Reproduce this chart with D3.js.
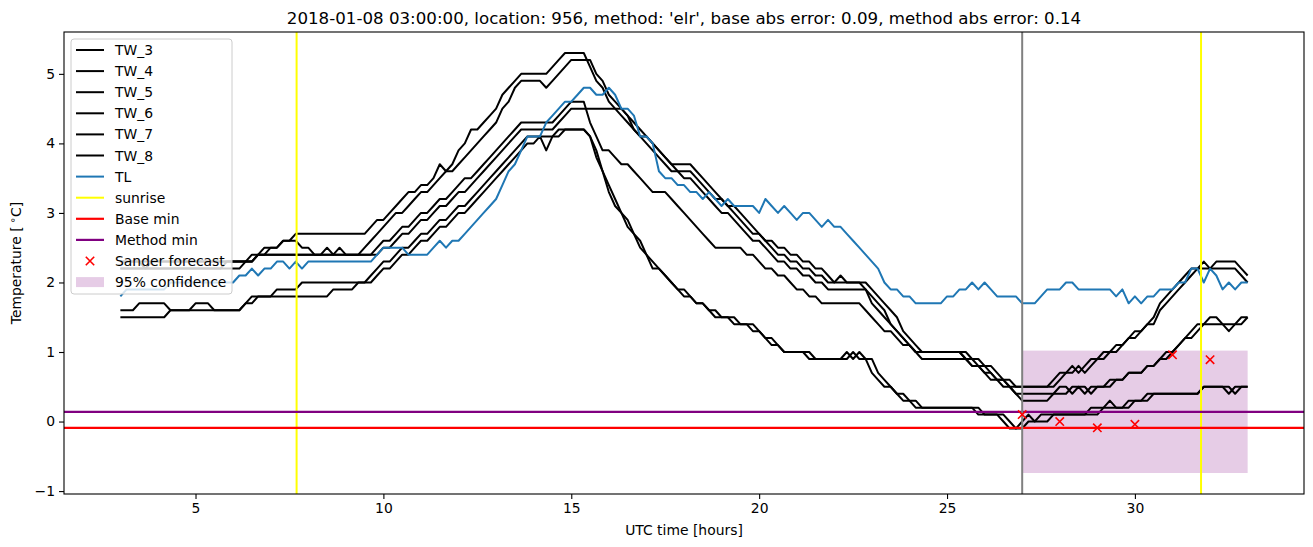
<!DOCTYPE html>
<html><head><meta charset="utf-8">
<script src="https://cdn.jsdelivr.net/npm/d3@7"></script>
<style>body{margin:0;background:#fff;} text{font-family:"DejaVu Sans",sans-serif;fill:#000;}</style>
</head><body><svg id="chart" width="1313" height="547"></svg>
<script>
// ---- data (10-minute samples starting at 03:00 UTC, hours 3..33) ----
const startHour = 3;
const samplesPerHour = 6;
const tw3 = [
2.3,2.3,2.3,2.3,2.2,2.3, 2.3,2.3,2.3,2.3,2.3,2.3, 2.3,2.3,2.3,2.3,2.3,2.3, 2.3,2.3,2.3,2.3,2.4,2.4,
2.5,2.5,2.6,2.6,2.7,2.7, 2.7,2.7,2.7,2.7,2.7,2.7, 2.7,2.7,2.7,2.7,2.8,2.9, 2.9,3.0,3.1,3.2,3.3,3.3,
3.4,3.4,3.5,3.7,3.6,3.7, 3.9,4.0,4.2,4.2,4.3,4.4, 4.5,4.7,4.8,4.9,5.0,5.0, 5.0,5.0,5.0,5.1,5.2,5.3,
5.3,5.3,5.3,5.1,4.9,4.8, 4.6,4.5,4.5,4.4,4.2,4.1, 4.1,4.0,3.9,3.8,3.7,3.7, 3.7,3.7,3.6,3.5,3.4,3.3,
3.2,3.1,3.1,3.0,2.9,2.8, 2.7,2.6,2.6,2.5,2.5,2.4, 2.4,2.3,2.3,2.2,2.2,2.1, 2.0,2.1,2.0,2.0,2.0,1.9,
1.7,1.6,1.5,1.4,1.3,1.2, 1.1,1.0,1.0,1.0,1.0,1.0, 1.0,1.0,1.0,0.9,0.9,0.8, 0.8,0.7,0.6,0.6,0.5,0.5,
0.5,0.5,0.5,0.5,0.5,0.6, 0.7,0.7,0.8,0.7,0.8,0.9, 0.9,1.0,1.0,1.1,1.1,1.2, 1.3,1.3,1.4,1.5,1.7,1.8,
1.9,2.0,2.1,2.2,2.2,2.3, 2.2,2.3,2.3,2.3,2.3,2.2, 2.1];
const tw4 = [
2.2,2.2,2.2,2.2,2.2,2.2, 2.2,2.2,2.2,2.2,2.2,2.2, 2.2,2.2,2.2,2.2,2.2,2.3, 2.3,2.3,2.3,2.3,2.4,2.5,
2.5,2.5,2.6,2.6,2.6,2.5, 2.5,2.4,2.4,2.5,2.4,2.5, 2.4,2.4,2.4,2.5,2.6,2.7, 2.8,2.9,3.0,3.0,3.1,3.2,
3.3,3.3,3.4,3.5,3.6,3.6, 3.7,3.8,3.9,4.0,4.1,4.2, 4.3,4.5,4.6,4.8,4.9,4.9, 4.9,4.9,4.8,4.9,5.0,5.1,
5.2,5.2,5.2,5.2,5.0,4.9, 4.7,4.6,4.5,4.4,4.3,4.2, 4.1,4.0,3.9,3.8,3.7,3.6, 3.6,3.6,3.5,3.4,3.3,3.2,
3.2,3.1,3.0,2.9,2.8,2.7, 2.7,2.6,2.5,2.4,2.4,2.3, 2.3,2.2,2.2,2.1,2.1,2.0, 2.0,2.0,2.0,2.0,2.0,2.0,
1.9,1.8,1.7,1.6,1.5,1.3, 1.2,1.1,1.0,1.0,1.0,1.0, 1.0,1.0,1.0,1.0,0.9,0.9, 0.8,0.8,0.7,0.6,0.6,0.5,
0.5,0.5,0.5,0.5,0.5,0.5, 0.6,0.7,0.7,0.8,0.7,0.8, 0.9,0.9,1.0,1.0,1.1,1.2, 1.2,1.3,1.4,1.4,1.6,1.7,
1.8,1.9,2.0,2.1,2.2,2.2, 2.2,2.2,2.2,2.2,2.2,2.1, 2.0];
const tw5 = [
2.2,2.2,2.2,2.2,2.2,2.2, 2.2,2.2,2.2,2.2,2.2,2.2, 2.2,2.2,2.2,2.2,2.2,2.2, 2.2,2.2,2.3,2.4,2.4,2.4,
2.4,2.4,2.4,2.4,2.4,2.4, 2.4,2.4,2.4,2.4,2.4,2.4, 2.4,2.4,2.4,2.4,2.4,2.5, 2.6,2.6,2.7,2.8,2.8,2.9,
3.0,3.0,3.1,3.2,3.2,3.3, 3.4,3.5,3.5,3.6,3.7,3.8, 3.9,4.0,4.1,4.2,4.3,4.3, 4.3,4.3,4.3,4.3,4.4,4.5,
4.6,4.6,4.6,4.3,4.1,3.9, 3.9,3.8,3.7,3.7,3.6,3.5, 3.4,3.3,3.3,3.3,3.2,3.1, 3.0,2.9,2.8,2.7,2.6,2.5,
2.5,2.5,2.5,2.5,2.4,2.4, 2.3,2.2,2.2,2.1,2.1,2.0, 1.9,1.9,1.8,1.8,1.7,1.7, 1.7,1.7,1.7,1.7,1.7,1.6,
1.5,1.4,1.3,1.3,1.2,1.1, 1.1,1.0,1.0,1.0,1.0,1.0, 1.0,1.0,1.0,0.9,0.8,0.8, 0.7,0.7,0.6,0.6,0.5,0.4,
0.3,0.3,0.3,0.3,0.3,0.4, 0.4,0.4,0.5,0.5,0.5,0.4, 0.5,0.5,0.5,0.6,0.6,0.7, 0.7,0.7,0.8,0.8,0.9,1.0,
1.0,1.1,1.2,1.3,1.4,1.4, 1.4,1.4,1.4,1.3,1.4,1.4, 1.5];
const tw6 = [
2.3,2.3,2.3,2.3,2.3,2.3, 2.3,2.3,2.3,2.3,2.3,2.3, 2.3,2.3,2.3,2.3,2.3,2.3, 2.3,2.3,2.3,2.3,2.4,2.4,
2.4,2.4,2.4,2.4,2.4,2.4, 2.4,2.4,2.4,2.4,2.4,2.4, 2.4,2.4,2.4,2.4,2.4,2.4, 2.5,2.5,2.6,2.7,2.7,2.8,
2.9,2.9,3.0,3.1,3.1,3.2, 3.3,3.3,3.4,3.5,3.6,3.7, 3.8,3.9,4.0,4.1,4.2,4.2, 4.2,4.2,4.2,4.2,4.3,4.4,
4.5,4.5,4.5,4.5,4.5,4.5, 4.5,4.5,4.4,4.3,4.2,4.1, 4.0,3.9,3.8,3.7,3.6,3.6, 3.5,3.5,3.4,3.3,3.2,3.1,
3.0,3.0,2.9,2.8,2.7,2.6, 2.6,2.5,2.4,2.3,2.3,2.2, 2.2,2.1,2.1,2.0,2.0,1.9, 1.9,1.9,1.9,1.9,1.9,1.9,
1.8,1.7,1.6,1.4,1.3,1.2, 1.1,1.0,0.9,0.9,0.9,0.9, 0.9,0.9,0.9,0.9,0.8,0.8, 0.7,0.6,0.6,0.5,0.5,0.4,
0.4,0.4,0.4,0.4,0.4,0.4, 0.5,0.5,0.4,0.5,0.4,0.5, 0.5,0.5,0.6,0.6,0.6,0.7, 0.7,0.7,0.8,0.8,0.9,0.9,
1.0,1.1,1.2,1.2,1.3,1.4, 1.5,1.5,1.4,1.4,1.4,1.5, 1.5];
const tw7 = [
1.6,1.6,1.6,1.7,1.7,1.7, 1.7,1.7,1.6,1.6,1.6,1.6, 1.7,1.7,1.7,1.6,1.6,1.6, 1.6,1.6,1.7,1.8,1.8,1.8,
1.8,1.9,1.9,1.9,1.9,2.0, 2.0,2.0,2.0,2.0,2.0,2.0, 2.0,2.0,2.0,2.0,2.1,2.2, 2.3,2.3,2.4,2.5,2.5,2.6,
2.7,2.7,2.8,2.9,2.9,3.0, 3.1,3.1,3.2,3.3,3.4,3.5, 3.6,3.7,3.8,3.9,4.0,4.1, 4.1,4.1,4.1,4.1,4.2,4.2,
4.2,4.2,4.2,4.1,3.9,3.6, 3.4,3.2,3.0,2.9,2.7,2.6, 2.4,2.2,2.2,2.1,2.0,1.9, 1.8,1.8,1.7,1.7,1.6,1.5,
1.5,1.5,1.4,1.4,1.4,1.3, 1.3,1.2,1.1,1.1,1.0,1.0, 1.0,1.0,0.9,0.9,0.9,0.9, 0.9,0.9,1.0,0.9,1.0,0.9,
0.7,0.6,0.5,0.5,0.4,0.3, 0.3,0.2,0.2,0.2,0.2,0.2, 0.2,0.2,0.2,0.2,0.2,0.2, 0.1,0.1,0.1,0.0,-0.1,-0.1,
0.0,0.1,0.0,0.1,0.1,0.1, 0.1,0.1,0.1,0.1,0.1,0.2, 0.2,0.2,0.3,0.2,0.2,0.3, 0.3,0.3,0.4,0.4,0.4,0.4,
0.4,0.4,0.4,0.4,0.4,0.5, 0.5,0.5,0.5,0.4,0.5,0.5, 0.5];
const tw8 = [
1.5,1.5,1.5,1.5,1.5,1.5, 1.5,1.5,1.6,1.6,1.6,1.6, 1.6,1.6,1.6,1.6,1.6,1.6, 1.6,1.6,1.7,1.7,1.8,1.8,
1.8,1.8,1.8,1.8,1.8,1.8, 1.8,1.8,1.8,1.8,1.9,1.9, 1.9,1.9,2.0,2.0,2.0,2.1, 2.2,2.2,2.3,2.4,2.4,2.5,
2.6,2.6,2.7,2.8,2.8,2.9, 3.0,3.0,3.1,3.2,3.3,3.4, 3.5,3.6,3.7,3.8,3.9,4.0, 4.0,4.1,3.9,4.1,4.1,4.2,
4.2,4.2,4.2,4.1,3.8,3.6, 3.3,3.1,3.0,2.8,2.7,2.5, 2.4,2.3,2.2,2.1,2.0,1.9, 1.9,1.8,1.7,1.7,1.6,1.6,
1.5,1.5,1.5,1.4,1.4,1.4, 1.3,1.2,1.2,1.1,1.0,1.0, 1.0,1.0,1.0,0.9,0.9,0.9, 0.9,0.9,0.9,1.0,0.9,0.9,
0.9,0.7,0.6,0.5,0.4,0.4, 0.3,0.3,0.2,0.2,0.2,0.2, 0.2,0.2,0.2,0.2,0.2,0.1, 0.1,0.1,0.1,0.1,0.0,-0.1,
-0.1,0.0,0.0,0.0,0.0,0.1, 0.1,0.1,0.1,0.1,0.1,0.1, 0.1,0.2,0.2,0.2,0.2,0.2, 0.3,0.3,0.3,0.4,0.4,0.4,
0.4,0.4,0.4,0.4,0.4,0.5, 0.5,0.5,0.5,0.5,0.4,0.5, 0.5];
const tl = [
1.8,1.9,1.9,1.9,1.9,1.9, 1.9,1.9,2.0,2.0,2.0,2.0, 2.0,2.0,2.0,2.0,2.0,2.0, 2.0,2.1,2.1,2.2,2.1,2.2,
2.2,2.3,2.3,2.2,2.3,2.2, 2.3,2.3,2.3,2.3,2.3,2.3, 2.3,2.3,2.3,2.3,2.3,2.4, 2.5,2.5,2.5,2.5,2.4,2.4,
2.4,2.4,2.5,2.6,2.5,2.6, 2.6,2.7,2.8,2.9,3.0,3.1, 3.2,3.4,3.6,3.7,3.9,4.1, 4.1,4.1,4.3,4.4,4.5,4.6,
4.6,4.7,4.8,4.8,4.7,4.7, 4.8,4.7,4.5,4.5,4.4,4.1, 4.1,4.0,3.6,3.5,3.5,3.4, 3.4,3.3,3.3,3.2,3.3,3.2,
3.1,3.2,3.1,3.1,3.1,3.1, 3.0,3.2,3.1,3.0,3.1,3.0, 2.9,3.0,3.0,2.9,2.8,2.9, 2.8,2.8,2.7,2.6,2.5,2.4,
2.3,2.2,2.0,1.9,1.9,1.8, 1.8,1.7,1.7,1.7,1.7,1.7, 1.8,1.8,1.9,1.9,2.0,1.9, 2.0,1.9,1.8,1.8,1.8,1.8,
1.7,1.7,1.7,1.8,1.9,1.9, 1.9,2.0,2.0,1.9,1.9,1.9, 1.9,1.9,1.9,1.8,1.9,1.7, 1.8,1.7,1.8,1.8,1.9,1.9,
1.9,2.0,2.0,2.2,2.2,2.0, 2.2,2.1,1.9,2.0,1.9,2.0, 2.0];
const twNames = ["TW_3","TW_4","TW_5","TW_6","TW_7","TW_8"];
const sunriseHours = [7.69, 31.76];
const issueHour = 27;
const baseMin = -0.09;
const methodMin = 0.14;
const forecastHours = [27, 28, 29, 30, 31, 32];
const forecastValues = [0.1, 0.0, -0.09, -0.04, 0.96, 0.89];
const confHours = [27, 33];
const confBounds = [-0.74, 1.02];
const xTicks = [5, 10, 15, 20, 25, 30];
const yTicks = [-1, 0, 1, 2, 3, 4, 5];
const titleText = "2018-01-08 03:00:00, location: 956, method: 'elr', base abs error: 0.09, method abs error: 0.14";

// ---- drawing ----
const svg = d3.select("#chart");
const L = 64, R = 1304, T = 32, B = 494;
const x = d3.scaleLinear().domain([1.5, 34.5]).range([L, R]);
const y = d3.scaleLinear().domain([-1.042, 5.602]).range([B, T]);
const hourOf = i => startHour + i / samplesPerHour;

svg.append("defs").append("clipPath").attr("id", "clip")
  .append("rect").attr("x", L).attr("y", T).attr("width", R - L).attr("height", B - T);
const plot = svg.append("g").attr("clip-path", "url(#clip)");

const confColor = "rgb(230,204,230)";
plot.append("rect")
  .attr("x", x(confHours[0])).attr("width", x(confHours[1]) - x(confHours[0]))
  .attr("y", y(confBounds[1])).attr("height", y(confBounds[0]) - y(confBounds[1]))
  .attr("fill", confColor);

const line = d3.line().x((d, i) => x(hourOf(i))).y(d => y(d));
[tw3, tw4, tw5, tw6, tw7, tw8].forEach(s => {
  plot.append("path").datum(s).attr("d", line).attr("fill", "none")
    .attr("stroke", "#000").attr("stroke-width", 2).attr("stroke-linejoin", "round");
});
plot.append("path").datum(tl).attr("d", line).attr("fill", "none")
  .attr("stroke", "#1f77b4").attr("stroke-width", 2).attr("stroke-linejoin", "round");

sunriseHours.forEach(h => {
  plot.append("line").attr("x1", x(h)).attr("x2", x(h)).attr("y1", T).attr("y2", B)
    .attr("stroke", "#ffff00").attr("stroke-width", 2);
});
plot.append("line").attr("x1", L).attr("x2", R).attr("y1", y(baseMin)).attr("y2", y(baseMin))
  .attr("stroke", "#ff0000").attr("stroke-width", 2.2);
plot.append("line").attr("x1", L).attr("x2", R).attr("y1", y(methodMin)).attr("y2", y(methodMin))
  .attr("stroke", "#800080").attr("stroke-width", 2.2);
plot.append("line").attr("x1", x(issueHour)).attr("x2", x(issueHour)).attr("y1", T).attr("y2", B)
  .attr("stroke", "#808080").attr("stroke-width", 2);

const xMark = (g, cx, cy, s) => {
  g.append("path").attr("d", `M${cx - s},${cy - s}L${cx + s},${cy + s}M${cx - s},${cy + s}L${cx + s},${cy - s}`)
    .attr("stroke", "#ff0000").attr("stroke-width", 1.6).attr("fill", "none");
};
forecastHours.forEach((h, i) => xMark(plot, x(h), y(forecastValues[i]), 4.2));

// frame
svg.append("rect").attr("x", L).attr("y", T).attr("width", R - L).attr("height", B - T)
  .attr("fill", "none").attr("stroke", "#000").attr("stroke-width", 1.1);

// axes
const fmtTick = d => d < 0 ? "\u2212" + Math.abs(d) : String(d);
const xAxis = svg.append("g").attr("transform", `translate(0,${B})`)
  .call(d3.axisBottom(x).tickValues(xTicks).tickSize(5).tickPadding(4).tickFormat(fmtTick));
const yAxis = svg.append("g").attr("transform", `translate(${L},0)`)
  .call(d3.axisLeft(y).tickValues(yTicks).tickSize(5).tickPadding(4).tickFormat(fmtTick));
[xAxis, yAxis].forEach(a => {
  a.select(".domain").remove();
  a.selectAll(".tick line").attr("stroke", "#000").attr("stroke-width", 1.1);
  a.selectAll(".tick text").attr("font-size", 13.9).attr("font-family", "DejaVu Sans").attr("fill", "#000");
});

svg.append("text").attr("x", (L + R) / 2).attr("y", 535).attr("text-anchor", "middle")
  .attr("font-size", 13.9).text("UTC time [hours]");
const yl = svg.append("text").attr("transform", `translate(21,${(T + B) / 2}) rotate(-90)`)
  .attr("text-anchor", "middle").attr("font-size", 13.9);
yl.append("tspan").text("Temperature [");
yl.append("tspan").attr("font-size", 10).attr("dy", -5).text(" \u2218");
yl.append("tspan").attr("dy", 5).text("C]");

svg.append("text").attr("x", (L + R) / 2).attr("y", 24).attr("text-anchor", "middle")
  .attr("font-size", 16.67).text(titleText);

// legend
const lg = svg.append("g");
lg.append("rect").attr("x", 71).attr("y", 39).attr("width", 161).attr("height", 255)
  .attr("rx", 3).attr("fill", "#fff").attr("fill-opacity", 0.8)
  .attr("stroke", "#cccccc").attr("stroke-width", 1);
const entries = twNames.map(n => ({label: n, kind: "line", color: "#000", w: 2}))
  .concat([
    {label: "TL", kind: "line", color: "#1f77b4", w: 2},
    {label: "sunrise", kind: "line", color: "#ffff00", w: 2},
    {label: "Base min", kind: "line", color: "#ff0000", w: 2.2},
    {label: "Method min", kind: "line", color: "#800080", w: 2.2},
    {label: "Sander forecast", kind: "x"},
    {label: "95% confidence", kind: "patch"}
  ]);
entries.forEach((e, i) => {
  const cy = 50 + i * 21.1;
  if (e.kind === "line") {
    lg.append("line").attr("x1", 76).attr("x2", 104).attr("y1", cy).attr("y2", cy)
      .attr("stroke", e.color).attr("stroke-width", e.w);
  } else if (e.kind === "x") {
    xMark(lg, 90, cy, 4.2);
  } else {
    lg.append("rect").attr("x", 76).attr("y", cy - 5).attr("width", 28).attr("height", 10).attr("fill", confColor);
  }
  lg.append("text").attr("x", 115).attr("y", cy + 5).attr("font-size", 13.9).text(e.label);
});
</script></body></html>
